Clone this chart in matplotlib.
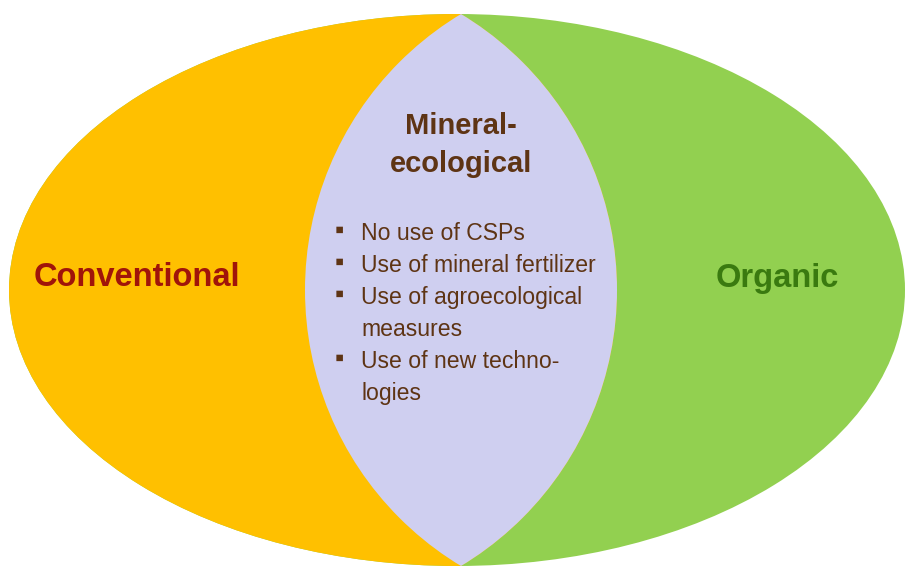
import numpy as np
import matplotlib.pyplot as plt
from matplotlib.patches import Ellipse, Circle

plt.rcParams['font.family'] = ['Liberation Sans', 'DejaVu Sans']

# labels of the three regions
left_label = 'Conventional'
right_label = 'Organic'
middle_title = ['Mineral-', 'ecological']
middle_items = [['No use of CSPs'],
                ['Use of mineral fertilizer'],
                ['Use of agroecological', 'measures'],
                ['Use of new techno-', 'logies']]

# colours
c_left = '#FFC000'
c_right = '#92D050'
c_mid = '#CFCFF0'
c_left_txt = '#A0140A'
c_right_txt = '#3A7A10'
c_mid_txt = '#5E3414'

# geometry in pixel units (y downwards)
outer_cx, outer_cy = 457, 290
outer_w, outer_h = 896, 552
lens_cx = 461
lens_top, lens_bot = 14, 566
lens_left, lens_right = 305, 617

fig = plt.figure(figsize=(9.05, 5.66), dpi=100)
ax = fig.add_axes([0, 0, 1, 1])
ax.set_xlim(0, 905)
ax.set_ylim(566, 0)
ax.axis('off')

# circles whose arcs form the lens
half_h = (lens_bot - lens_top) / 2
mid_y = (lens_bot + lens_top) / 2
dl = lens_cx - lens_left
R_a = (dl ** 2 + half_h ** 2) / (2 * dl)
dr = lens_right - lens_cx
R_b = (dr ** 2 + half_h ** 2) / (2 * dr)

outer = Ellipse((outer_cx, outer_cy), outer_w, outer_h, color=c_right, lw=0)
ax.add_patch(outer)

circ_b = Circle((lens_right - R_b, mid_y), R_b, color=c_left, lw=0)
ax.add_patch(circ_b)
circ_b.set_clip_path(outer)

circ_a = Circle((lens_left + R_a, mid_y), R_a, color=c_mid, lw=0)
ax.add_patch(circ_a)
circ_a.set_clip_path(circ_b)

# outer labels
ax.text(137, 278, left_label, ha='center', va='center', fontsize=23.5,
        fontweight='bold', color=c_left_txt)
ax.text(777, 278, right_label, ha='center', va='center', fontsize=23.5,
        fontweight='bold', color=c_right_txt)

# title in the lens
for i, line in enumerate(middle_title):
    ax.text(lens_cx, 134 + 38 * i, line, ha='center', va='baseline',
            fontsize=21, fontweight='bold', color=c_mid_txt)

# bullet list
y = 240
for item in middle_items:
    ax.text(339, y - 9, '\u25aa', ha='center', va='center', fontsize=19,
            color=c_mid_txt)
    for line in item:
        ax.text(361, y, line, ha='left', va='baseline', fontsize=16.6,
                color=c_mid_txt)
        y += 32

fig.savefig('out.png', dpi=100, facecolor='white')
